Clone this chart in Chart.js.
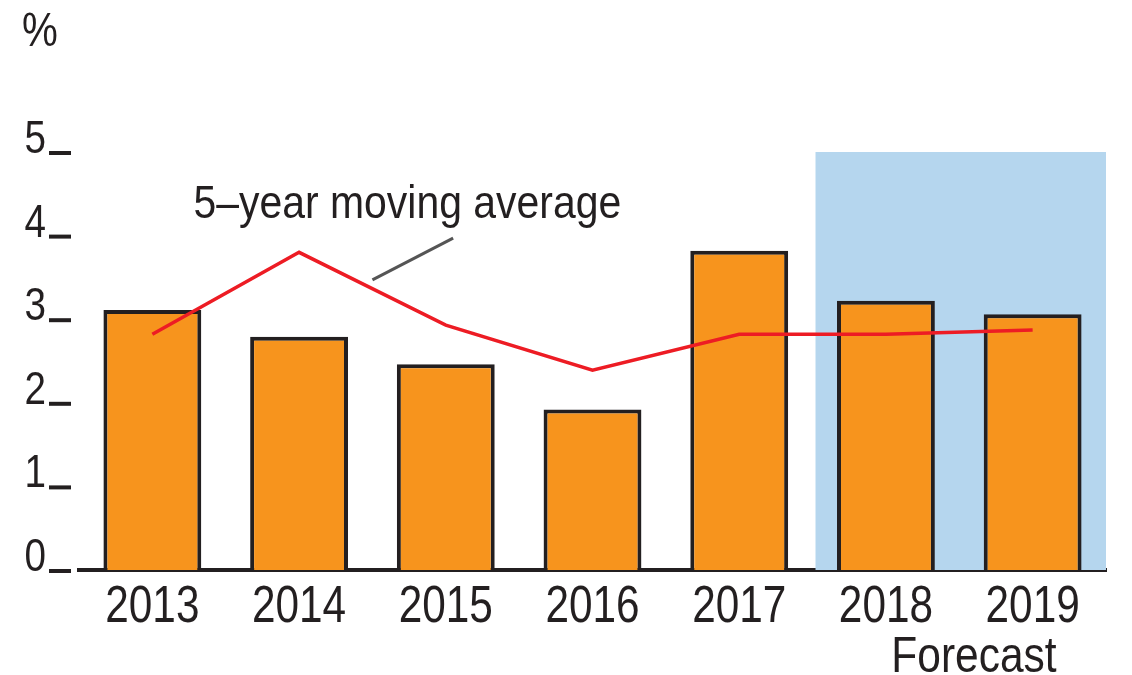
<!DOCTYPE html>
<html>
<head>
<meta charset="utf-8">
<script src="https://cdn.jsdelivr.net/npm/chart.js@4"></script>
<style>
  html, body { margin: 0; padding: 0; background: #fff; }
  #wrap { width: 1132px; height: 675px; }
</style>
</head>
<body>
<div id="wrap"><canvas id="chart"></canvas></div>
<script>
const years = ["2013", "2014", "2015", "2016", "2017", "2018", "2019"];
const growth = [3.11, 2.79, 2.46, 1.92, 3.82, 3.22, 3.06];
const movingAverage = [2.82, 3.8, 2.93, 2.39, 2.82, 2.82, 2.87];
const yTicks = [0, 1, 2, 3, 4, 5];
const forecastFrom = 4.52; // category index where the shaded forecast band starts

const FONT = "'Liberation Sans', Arial, sans-serif";
const INK = "#231f20";

// no narrow font installed, so squeeze Liberation Sans sideways
const narrowText = (ctx, text, x, y, size, squeeze, align) => {
  ctx.save();
  ctx.font = size + "px " + FONT;
  ctx.textAlign = align;
  ctx.textBaseline = "alphabetic";
  ctx.fillStyle = INK;
  ctx.translate(x, y);
  ctx.scale(squeeze, 1);
  ctx.fillText(text, 0, 0);
  ctx.restore();
};

// shaded forecast band, drawn behind the bars
const forecastBand = {
  id: "forecastBand",
  beforeDatasetsDraw(chart) {
    const { ctx, chartArea, scales } = chart;
    const left = scales.x.getPixelForValue(forecastFrom);
    const top = scales.y.getPixelForValue(5);
    ctx.save();
    ctx.fillStyle = "#b5d6ee";
    ctx.fillRect(left, top, chartArea.right - left, chartArea.bottom - top);
    ctx.restore();
  },
};

// tick labels with their dashes, the % sign, and the text notes
const extras = {
  id: "extras",
  afterDraw(chart) {
    const { ctx, chartArea, scales } = chart;
    const x = scales.x;
    const y = scales.y;

    ctx.save();
    ctx.strokeStyle = INK;
    ctx.lineWidth = 4;
    y.ticks.forEach((t) => {
      const py = y.getPixelForValue(t.value);
      ctx.beginPath();
      ctx.moveTo(chartArea.left - 30, py + 1);
      ctx.lineTo(chartArea.left - 8, py + 1);
      ctx.stroke();
      narrowText(ctx, String(t.value), chartArea.left - 33, py + 1, 46, 0.84, "right");
    });
    ctx.restore();

    x.ticks.forEach((t, i) => {
      narrowText(ctx, x.getLabelForValue(t.value), x.getPixelForTick(i), chartArea.bottom + 52, 51, 0.83, "center");
    });

    narrowText(ctx, "%", 40, 46, 48, 0.84, "center");

    // line label + leader
    narrowText(ctx, "5\u2013year moving average", x.getPixelForValue(0.28), y.getPixelForValue(4.21), 46, 0.89, "left");
    ctx.save();
    ctx.strokeStyle = "#555";
    ctx.lineWidth = 3;
    ctx.beginPath();
    ctx.moveTo(x.getPixelForValue(2.05), y.getPixelForValue(3.97));
    ctx.lineTo(x.getPixelForValue(1.5), y.getPixelForValue(3.47));
    ctx.stroke();
    ctx.restore();

    narrowText(ctx, "Forecast", x.getPixelForValue(5.6), chartArea.bottom + 102, 50, 0.85, "center");
  },
};

new Chart(document.getElementById("chart"), {
  data: {
    labels: years,
    datasets: [
      {
        type: "line",
        data: movingAverage,
        borderColor: "#ed1c24",
        borderWidth: 3.5,
        pointRadius: 0,
        tension: 0,
        order: 0,
      },
      {
        type: "bar",
        data: growth,
        backgroundColor: "#f7941d",
        borderColor: INK,
        borderWidth: 4,
        categoryPercentage: 1,
        barPercentage: 0.667,
        order: 1,
      },
    ],
  },
  options: {
    responsive: true,
    maintainAspectRatio: false,
    animation: false,
    layout: { padding: { top: 152, right: 26, left: 0, bottom: 0 } },
    plugins: {
      legend: { display: false },
      tooltip: { enabled: false },
    },
    scales: {
      x: {
        grid: { display: false, drawTicks: false },
        border: { display: true, color: INK, width: 4 },
        ticks: { display: false },
        afterFit(scale) { scale.height = 105; },
      },
      y: {
        min: 0,
        max: 5,
        grid: { display: false, drawTicks: false },
        border: { display: false },
        ticks: { display: false, stepSize: 1 },
        afterFit(scale) { scale.width = 79; },
      },
    },
  },
  plugins: [forecastBand, extras],
});
</script>
</body>
</html>
